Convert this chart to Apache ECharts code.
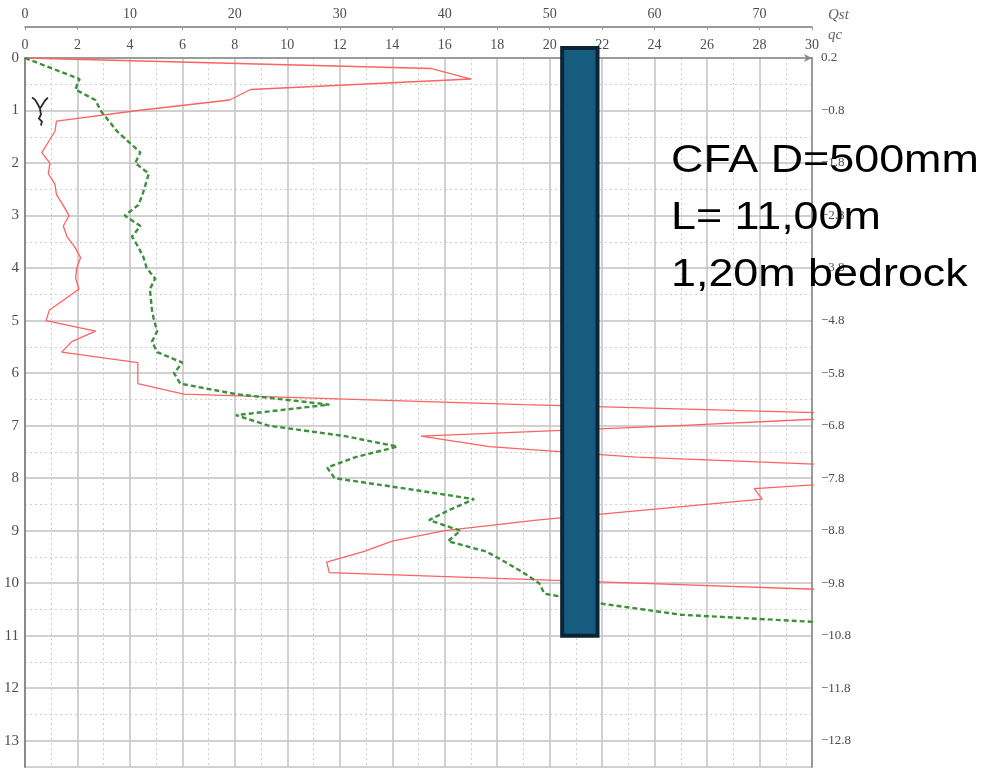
<!DOCTYPE html>
<html>
<head>
<meta charset="utf-8">
<script src="https://cdn.jsdelivr.net/npm/echarts@6/dist/echarts.min.js"></script>
<style>
  html, body { margin: 0; padding: 0; background: #fff; }
  #chart { width: 986px; height: 769px; }
</style>
</head>
<body>
<div id="chart"></div>
<script>
// Cone resistance qc [MPa] against depth [m]
const qcDepths = [0, 0.2, 0.4, 0.6, 0.8, 1.0, 1.2, 1.4, 1.6, 1.8, 2.0, 2.2, 2.4, 2.6, 2.8, 3.0, 3.2, 3.4, 3.6, 3.8,
  4.0, 4.2, 4.4, 4.6, 4.8, 5.0, 5.2, 5.4, 5.6, 5.8, 6.0, 6.2, 6.4, 6.6, 6.8, 7.0, 7.2, 7.4, 7.6, 7.8,
  8.0, 8.2, 8.4, 8.6, 8.8, 9.0, 9.2, 9.4, 9.6, 9.8, 10.0, 10.2];
const qcValues = [0, 15.5, 17.0, 8.6, 7.8, 4.3, 1.2, 1.14, 0.89, 0.64, 0.95, 0.89, 1.14, 1.2, 1.45, 1.68, 1.46, 1.6, 1.9, 2.12,
  1.97, 1.93, 2.06, 1.5, 0.93, 0.8, 2.69, 1.78, 1.4, 4.3, 4.3, 4.3, 6.05, 19.0, 33.4, 24.9, 15.1, 17.7, 23.3, 33.5,
  34.1, 27.8, 28.1, 23.8, 19.5, 16.0, 14.0, 12.9, 11.5, 11.6, 23.3, 35.0];

// Qst against depth [m]
const qstDepths = [0, 0.2, 0.4, 0.6, 0.8, 1.0, 1.2, 1.4, 1.6, 1.8, 2.0, 2.2, 2.4, 2.6, 2.8, 3.0, 3.2, 3.4, 3.6, 3.8,
  4.0, 4.2, 4.4, 4.6, 4.8, 5.0, 5.2, 5.4, 5.6, 5.8, 6.0, 6.2, 6.4, 6.6, 6.8, 7.0, 7.2, 7.4, 7.6, 7.8,
  8.0, 8.2, 8.4, 8.6, 8.8, 9.0, 9.2, 9.4, 9.6, 9.8, 10.0, 10.2, 10.4, 10.6, 10.8];
const qstValues = [0, 2.6, 5.2, 4.8, 6.7, 7.2, 8.0, 8.8, 9.9, 11.0, 10.5, 11.8, 11.5, 11.2, 10.8, 9.5, 11.0, 10.2, 10.8, 11.3,
  11.6, 12.4, 11.9, 12.0, 12.1, 12.3, 12.6, 12.1, 12.6, 15.0, 14.2, 14.8, 20.1, 29.0, 20.1, 23.2, 30.5, 35.5, 31.5, 28.8,
  29.5, 36.3, 42.8, 40.5, 38.5, 41.5, 40.3, 44.0, 45.8, 47.5, 49.0, 49.5, 55.3, 62.5, 81.0];

// Elevation labels on the right axis, one per metre of depth
const elevationLabels = ['0.2', '\u22120.8', '\u22121.8', '\u22122.8', '\u22123.8', '\u22124.8', '\u22125.8',
  '\u22126.8', '\u22127.8', '\u22128.8', '\u22129.8', '\u221210.8', '\u221211.8', '\u221212.8'];

// Pile outline: qc range of its width and depth range of its shaft
const pileQc = [20.4, 21.9];
const pileDepth = [-0.23, 11.04];

// Groundwater mark
const waterMark = [0.57, 1.0];

const noteLines = ['CFA D=500mm', 'L= 11,00m', '1,20m bedrock'];

const serif = 'Liberation Serif';
const labelColor = '#4d4d4d';

const chart = echarts.init(document.getElementById('chart'));

const pairs = (xs, ys) => ys.map((y, i) => [xs[i], y]);

chart.setOption({
  animation: false,
  grid: { left: 25, right: 174, top: 58, bottom: 2 },
  xAxis: [
    {
      type: 'value', position: 'top', min: 0, max: 30, interval: 2,
      name: 'qc', nameLocation: 'end', nameGap: 16,
      nameTextStyle: { fontFamily: serif, fontStyle: 'italic', fontSize: 15, color: '#666',
        verticalAlign: 'bottom', padding: [0, 0, 15, 0] },
      axisLine: { show: true, onZero: false, lineStyle: { color: '#8a8a8a', width: 1.5 },
        symbol: ['none', 'arrow'], symbolSize: [6, 8] },
      axisTick: { show: false },
      axisLabel: { fontFamily: serif, fontSize: 14, color: labelColor, margin: 6 },
      splitLine: { show: true, lineStyle: { color: '#c6c6c6', width: 1.6 } },
      minorTick: { show: true, splitNumber: 2, length: 0 },
      minorSplitLine: { show: true, lineStyle: { color: '#cfcfcf', width: 1, type: [2, 3] } }
    },
    {
      type: 'value', position: 'top', offset: 31, min: 0, max: 75, interval: 10,
      name: 'Qst', nameLocation: 'end', nameGap: 16,
      nameTextStyle: { fontFamily: serif, fontStyle: 'italic', fontSize: 15, color: '#666',
        verticalAlign: 'bottom', padding: [0, 0, 4, 0] },
      axisLine: { show: true, onZero: false, lineStyle: { color: '#7a7a7a', width: 1.5 } },
      axisTick: { show: true, inside: true, length: 3, lineStyle: { color: '#999' } },
      minorTick: { show: true, splitNumber: 2, length: 3, lineStyle: { color: '#999' } },
      axisLabel: { fontFamily: serif, fontSize: 14, color: labelColor, margin: 6, showMaxLabel: false },
      splitLine: { show: false }
    }
  ],
  yAxis: [
    {
      type: 'value', inverse: true, min: 0, max: 13.5, interval: 1, position: 'left',
      axisLine: { show: true, onZero: false, lineStyle: { color: '#8a8a8a', width: 2 } },
      axisTick: { show: false },
      axisLabel: { fontFamily: serif, fontSize: 15, color: labelColor, margin: 6, showMaxLabel: false },
      splitLine: { show: true, lineStyle: { color: '#c2c2c2', width: 1.6 } }
    },
    {
      type: 'value', inverse: true, min: 0, max: 13.5, interval: 1, position: 'right',
      axisLine: { show: true, onZero: false, lineStyle: { color: '#9a9a9a', width: 2 } },
      axisTick: { show: false },
      axisLabel: {
        fontFamily: serif, fontSize: 13, color: labelColor, margin: 9, showMaxLabel: false,
        formatter: v => (Number.isInteger(v) ? elevationLabels[v] : '')
      },
      splitLine: { show: false }
    },
    {
      // half-metre dotted guide lines
      type: 'value', inverse: true, min: 0, max: 13.5, interval: 0.5, position: 'left',
      axisLine: { show: false }, axisTick: { show: false }, axisLabel: { show: false },
      splitLine: { show: true, lineStyle: { color: '#cfcfcf', width: 1, type: [2, 3] } }
    }
  ],
  series: [
    {
      name: 'qc', type: 'line', xAxisIndex: 0, yAxisIndex: 0,
      data: pairs(qcValues, qcDepths), symbol: 'none', clip: true, z: 3,
      lineStyle: { color: '#ff6262', width: 1.3 }
    },
    {
      name: 'Qst', type: 'line', xAxisIndex: 1, yAxisIndex: 0,
      data: pairs(qstValues, qstDepths), symbol: 'none', clip: true, z: 3,
      lineStyle: { color: '#3f8f3f', width: 2.4, type: [5, 3] }
    },
    {
      name: 'pile', type: 'custom', xAxisIndex: 0, yAxisIndex: 0, clip: false, z: 5,
      data: [[pileQc[0], pileDepth[0], pileQc[1], pileDepth[1]]],
      renderItem: (params, api) => {
        const a = api.coord([api.value(0), api.value(1)]);
        const b = api.coord([api.value(2), api.value(3)]);
        return {
          type: 'rect',
          shape: { x: a[0] + 2, y: a[1] + 2, width: b[0] - a[0] - 4, height: b[1] - a[1] - 4 },
          style: { fill: '#165c7f', stroke: '#0b2535', lineWidth: 4 }
        };
      }
    },
    {
      name: 'water', type: 'custom', xAxisIndex: 0, yAxisIndex: 0, clip: false, z: 4,
      data: [waterMark],
      renderItem: (params, api) => {
        const c = api.coord([api.value(0), api.value(1)]);
        const line = pts => ({
          type: 'polyline',
          shape: { points: pts.map(p => [c[0] + p[0], c[1] + p[1]]) },
          style: { stroke: '#2a2a2a', lineWidth: 1.8, fill: null }
        });
        return {
          type: 'group',
          children: [
            line([[-8, -13], [-5, -11], [-2, -6], [0, -2]]),
            line([[8, -13], [5, -10], [2, -5], [0, -2]]),
            line([[0, -2], [1, 4], [-1, 8], [2, 11], [1, 15]])
          ]
        };
      }
    }
  ],
  graphic: noteLines.map((t, i) => ({
    type: 'text', x: 671, y: 161 + i * 57, scaleX: 1.15, z: 100,
    style: { text: t, fontFamily: 'Liberation Sans', fontSize: 39, fill: '#000', verticalAlign: 'middle' }
  }))
});
</script>
</body>
</html>
